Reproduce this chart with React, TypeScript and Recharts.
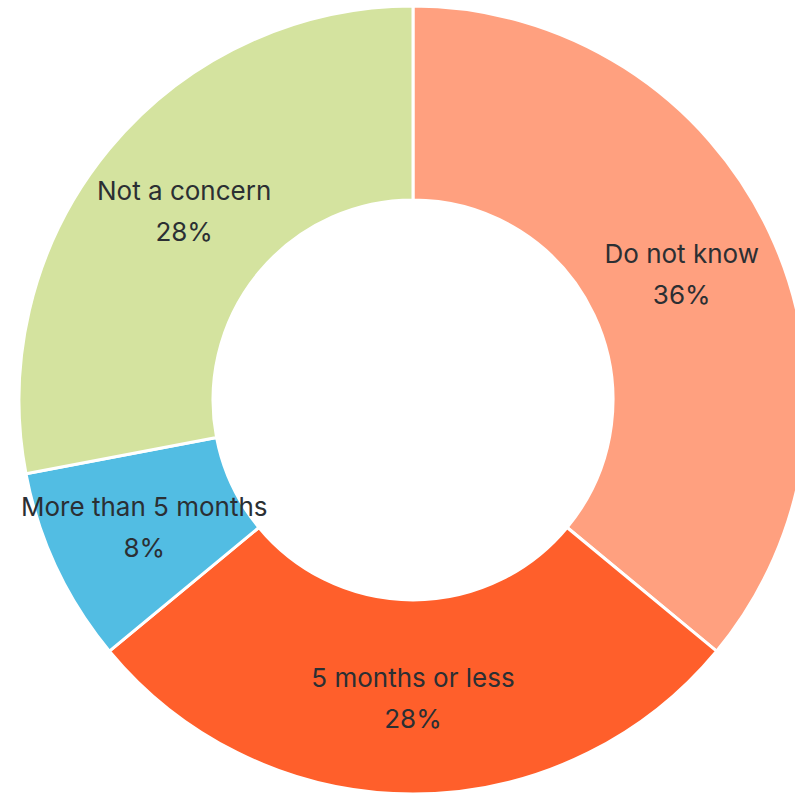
import React from "react";
import { PieChart, Pie, Cell } from "recharts";

const categories = ["Do not know", "5 months or less", "More than 5 months", "Not a concern"];
const values = [36, 28, 8, 28];
const colors = ["#FFA07F", "#FF5F2B", "#52BDE3", "#D4E39F"];

const data = categories.map((name, i) => ({ name, value: values[i] }));

const RAD = Math.PI / 180;

const renderLabel = (props: any) => {
  const { cx, cy, midAngle, innerRadius, outerRadius, name, value } = props;
  const r = (innerRadius + outerRadius) / 2;
  const x = cx + r * Math.cos(-midAngle * RAD);
  const y = cy + r * Math.sin(-midAngle * RAD);
  return (
    <text
      x={x}
      y={y}
      textAnchor="middle"
      fill="#2B2F33"
      fontFamily="Inter, sans-serif"
      fontSize={26}
    >
      <tspan x={x} y={y - 20} dominantBaseline="central">{name}</tspan>
      <tspan x={x} y={y + 21} dominantBaseline="central">{value}%</tspan>
    </text>
  );
};

export default function App() {
  return (
    <div style={{ position: "absolute", left: 0, top: 0, width: 795, height: 793, background: "#fff" }}>
      <PieChart width={795} height={793} margin={{ top: 0, right: 0, bottom: 0, left: 0 }}>
        <Pie
          data={data}
          dataKey="value"
          nameKey="name"
          cx={413}
          cy={400}
          innerRadius={200}
          outerRadius={394}
          startAngle={90}
          endAngle={-270}
          stroke="#fff"
          strokeWidth={3}
          label={renderLabel}
          labelLine={false}
          isAnimationActive={false}
        >
          {data.map((d, i) => (
            <Cell key={d.name} fill={colors[i]} />
          ))}
        </Pie>
      </PieChart>
    </div>
  );
}
